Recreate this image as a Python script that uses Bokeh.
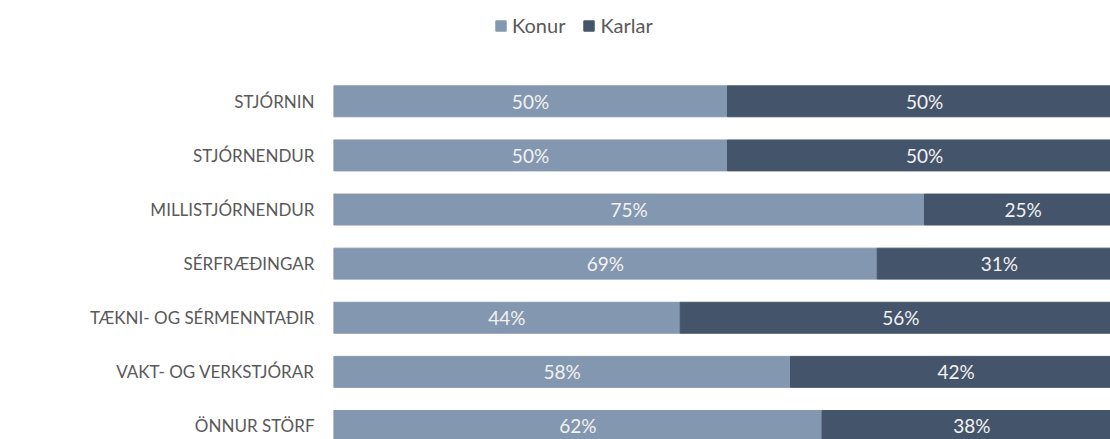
from bokeh.plotting import figure
from bokeh.models import ColumnDataSource, Range1d, Legend, LegendItem, FixedTicker
from bokeh.core.properties import value
from bokeh.embed import file_html
from bokeh.resources import INLINE

categories = ["STJÓRNIN", "STJÓRNENDUR", "MILLISTJÓRNENDUR", "SÉRFRÆÐINGAR",
              "TÆKNI- OG SÉRMENNTAÐIR", "VAKT- OG VERKSTJÓRAR", "ÖNNUR STÖRF"]
konur = [50, 50, 75, 69, 44, 58, 62]
karlar = [50, 50, 25, 31, 56, 42, 38]
series_names = ["Konur", "Karlar"]
colors = ["#8497B0", "#44546A"]

FONT = "Lato"

ypos = [-i for i in range(len(categories))]
k_frac = [v / 100 for v in konur]
m_frac = [v / 100 for v in karlar]
src = ColumnDataSource(dict(
    y=ypos,
    k0=[0] * len(konur), k1=k_frac,
    m0=k_frac, m1=[a + b for a, b in zip(k_frac, m_frac)],
    kc=[a / 2 for a in k_frac],
    mc=[a + b / 2 for a, b in zip(k_frac, m_frac)],
    kl=[f"{v}%" for v in konur],
    ml=[f"{v}%" for v in karlar],
))

p = figure(width=1110, height=439, output_backend="svg", toolbar_location=None,
           x_range=Range1d(0, 0.986), y_range=Range1d(-6.25, 1.863),
           min_border_left=333, min_border_right=0, min_border_top=0, min_border_bottom=0)
p.outline_line_color = None
p.xgrid.visible = False
p.ygrid.visible = False
p.xaxis.visible = False

r1 = p.hbar(y="y", left="k0", right="k1", height=0.572, color=colors[0], source=src)
r2 = p.hbar(y="y", left="m0", right="m1", height=0.572, color=colors[1], source=src)

for xc, lab in (("kc", "kl"), ("mc", "ml")):
    p.text(x=xc, y="y", text=lab, source=src, text_align="center", text_baseline="middle",
           text_color="#F2F2F2", text_font=value(FONT), text_font_size="19px")

ax = p.yaxis[0]
ax.ticker = FixedTicker(ticks=ypos)
ax.major_label_overrides = {y: c for y, c in zip(ypos, categories)}
ax.axis_line_color = None
ax.major_tick_line_color = None
ax.minor_tick_line_color = None
ax.major_label_standoff = 13
ax.major_label_text_font = FONT
ax.major_label_text_font_size = "17px"
ax.major_label_text_color = "#595959"

legend = Legend(items=[LegendItem(label=series_names[0], renderers=[r1]),
                       LegendItem(label=series_names[1], renderers=[r2])],
                orientation="horizontal", location=(161, 402),
                glyph_width=13, glyph_height=13, label_standoff=5, spacing=17,
                padding=0, margin=0, border_line_color=None, background_fill_alpha=0,
                label_text_font=FONT, label_text_font_size="20px", label_text_color="#595959",
                label_height=24)
p.add_layout(legend)

open("out.html", "w").write(file_html(p, INLINE))
